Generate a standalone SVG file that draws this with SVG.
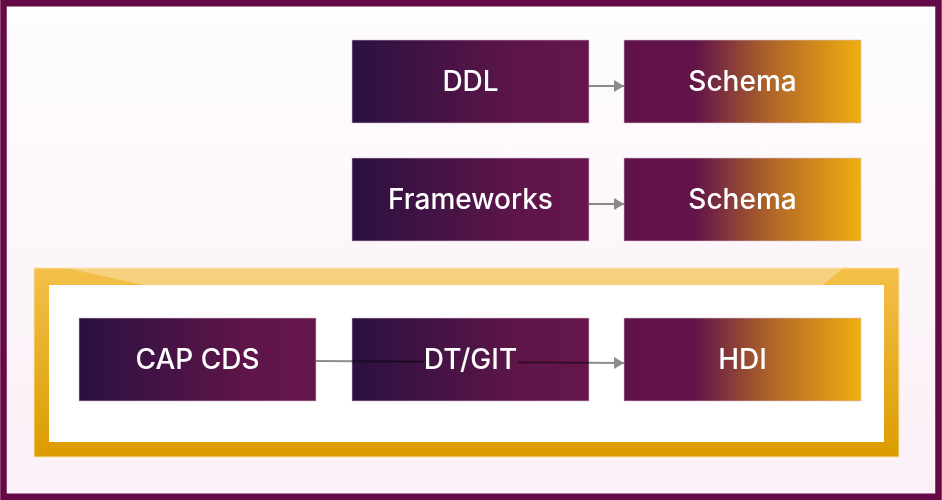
<svg xmlns="http://www.w3.org/2000/svg" width="942" height="500" viewBox="0 0 942 500">
  <defs>
    <linearGradient id="bg" x1="0" y1="0" x2="0" y2="1">
      <stop offset="0" stop-color="#ffffff"/>
      <stop offset="0.08" stop-color="#fdfbfd"/>
      <stop offset="1" stop-color="#fbf0f7"/>
    </linearGradient>
    <linearGradient id="purple" x1="0" y1="0" x2="1" y2="0">
      <stop offset="0" stop-color="#2a1140"/>
      <stop offset="0.7" stop-color="#5e1549"/>
      <stop offset="1" stop-color="#65164c"/>
    </linearGradient>
    <linearGradient id="target" x1="0" y1="0" x2="1" y2="0">
      <stop offset="0" stop-color="#611349"/>
      <stop offset="0.3" stop-color="#621449"/>
      <stop offset="0.62" stop-color="#b06528"/>
      <stop offset="1" stop-color="#f0ae10"/>
    </linearGradient>
    <linearGradient id="frame" x1="0" y1="0" x2="0" y2="1">
      <stop offset="0" stop-color="#f3c04a"/>
      <stop offset="1" stop-color="#dc9c00"/>
    </linearGradient>
    <marker id="arrow" viewBox="0 0 10 12" refX="10" refY="6" markerWidth="10" markerHeight="12" markerUnits="userSpaceOnUse" orient="auto">
      <path d="M0,0 L10,6 L0,12 Z" fill="#8c8c8c"/>
    </marker>
    <mask id="textgap" maskUnits="userSpaceOnUse" x="0" y="0" width="942" height="500">
      <rect x="0" y="0" width="942" height="500" fill="#ffffff"/>
      <rect x="424" y="345" width="94" height="28" fill="#000000"/>
    </mask>
    <style>
      .box { stroke: #d9c2d3; stroke-width: 1; stroke-opacity: 0.6; }
      .src { fill: url(#purple); }
      .dst { fill: url(#target); }
      .label { fill: #ffffff; font-family: Inter, "Noto Sans", "Liberation Sans", sans-serif; font-size: 28px; font-weight: 500; text-anchor: middle; }
      .conn { fill: none; stroke: #8c8c8c; stroke-width: 2; mix-blend-mode: multiply; }
    </style>
  </defs>

  <rect x="0" y="0" width="942" height="500" fill="url(#bg)"/>
  <rect x="3.5" y="3.25" width="935" height="493.5" fill="none" stroke="#650a47" stroke-width="6.5"/>

  <g id="frame-group">
    <rect x="34" y="268" width="865" height="189" fill="url(#frame)" stroke="#fbe3a8" stroke-width="1"/>
    <polygon points="67,268 843,268 823,285 143,285" fill="#ffffff" fill-opacity="0.3"/>
    <rect x="49" y="285" width="835" height="157" fill="#ffffff"/>
  </g>

  <g id="node-ddl">
    <rect class="box src" x="352" y="40" width="237" height="83"/>
    <text class="label" x="470.5" y="91">DDL</text>
  </g>
  <g id="node-schema1">
    <rect class="box dst" x="624" y="40" width="237" height="83"/>
    <text class="label" x="742.5" y="91">Schema</text>
  </g>
  <g id="node-frameworks">
    <rect class="box src" x="352" y="158" width="237" height="83"/>
    <text class="label" x="470.5" y="209">Frameworks</text>
  </g>
  <g id="node-schema2">
    <rect class="box dst" x="624" y="158" width="237" height="83"/>
    <text class="label" x="742.5" y="209">Schema</text>
  </g>
  <g id="node-capcds">
    <rect class="box src" x="79" y="318" width="237" height="83"/>
    <text class="label" x="197.5" y="369">CAP CDS</text>
  </g>
  <g id="node-dtgit">
    <rect class="box src" x="352" y="318" width="237" height="83"/>
    <text class="label" x="470.5" y="369">DT/GIT</text>
  </g>
  <g id="node-hdi">
    <rect class="box dst" x="624" y="318" width="237" height="83"/>
    <text class="label" x="742.5" y="369">HDI</text>
  </g>

  <g id="connectors">
    <path class="conn" d="M589,86 L624,86" marker-end="url(#arrow)"/>
    <path class="conn" d="M589,204 L624,204" marker-end="url(#arrow)"/>
    <path class="conn" d="M316,361 L624,363" marker-end="url(#arrow)" mask="url(#textgap)"/>
  </g>
</svg>
